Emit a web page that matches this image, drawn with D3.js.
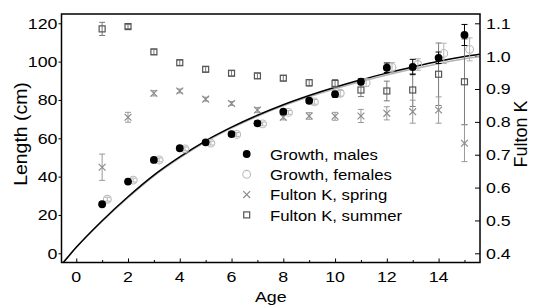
<!DOCTYPE html>
<html lang="en">
<head>
    <meta charset="UTF-8">
    <title>Growth and Fulton K</title>
    <script src="https://cdn.jsdelivr.net/npm/d3@7"></script>
    <style>
        body { margin: 0; background: #fff; }
        text { font-family: "Liberation Sans", Arial, sans-serif; fill: #000; }
    </style>
</head>
<body>
<script>

    // ages of the sampled fish
    var ages = [1, 2, 3, 4, 5, 6, 7, 8, 9, 10, 11, 12, 13, 14, 15];

    // mean length (cm) and error, males / females
    var maleLen = [25.6, 37.4, 48.7, 54.8, 57.9, 62.2, 67.8, 73.9, 79.6, 83.0, 89.5, 96.8, 97.2, 102.0, 113.9];
    var maleErr = [1, 1, 1, 1, 1, 1, 1, 1, 1.2, 1.5, 1.5, 2.5, 4, 3, 5.5];
    var femaleLen = [28.2, 38.2, 48.7, 54.5, 57.5, 62.0, 67.5, 73.5, 79.0, 83.5, 89.0, 97.0, 98.5, 104.3, 106.4];
    var femaleErr = [1, 1, 1, 1, 1, 1, 1, 1, 1.2, 1.5, 2, 2.5, 3, 5.3, 6];

    // Fulton K, spring / summer
    var springK = [0.662, 0.814, 0.887, 0.894, 0.869, 0.856, 0.836, 0.814, 0.818, 0.817, 0.818, 0.826, 0.831, 0.836, 0.735];
    var springErr = [0.04, 0.015, 0.008, 0.006, 0.006, 0.006, 0.008, 0.008, 0.01, 0.012, 0.02, 0.02, 0.035, 0.04, 0.056];
    var summerK = [1.083, 1.09, 1.013, 0.98, 0.96, 0.948, 0.94, 0.933, 0.919, 0.917, 0.897, 0.894, 0.897, 0.945, 0.922];
    var summerErr = [0.02, 0.006, 0.008, 0.008, 0.008, 0.008, 0.008, 0.008, 0.01, 0.012, 0.02, 0.03, 0.05, 0.095, 0.13];

    // growth curves
    var curveAge = [-0.57, 0, 1, 2, 3, 4, 5, 6, 7, 8, 9, 10, 11, 12, 13, 14, 15, 15.6];
    var curveMale = [-6.0, 3.1, 17.0, 29.5, 40.8, 50.3, 58.7, 65.8, 72.0, 77.5, 82.3, 86.6, 90.5, 94.0, 97.2, 100.2, 102.7, 103.9];
    var curveFemale = [-5.6, 3.0, 16.6, 29.0, 40.3, 49.8, 58.2, 65.3, 71.5, 76.9, 81.6, 85.8, 89.6, 93.0, 96.1, 98.9, 101.5, 102.7];

    // ticks
    var xTicks = [0, 2, 4, 6, 8, 10, 12, 14];
    var xMinor = [1, 3, 5, 7, 9, 11, 13, 15];
    var yTicks = [0, 20, 40, 60, 80, 100, 120];
    var kTicks = [0.4, 0.5, 0.6, 0.7, 0.8, 0.9, 1.0, 1.1];

    var legendLabels = ["Growth, males", "Growth, females", "Fulton K, spring", "Fulton K, summer"];

    var W = 540, H = 305;
    var L = 61.5, R = 480, T = 14, B = 262.5;
    var femaleShift = 0.2;

    var x = d3.scaleLinear().domain([-0.57, 15.6]).range([L, R]);
    var y = d3.scaleLinear().domain([-4.8, 124.85]).range([B, T]);
    var yK = d3.scaleLinear().domain([0.372, 1.1283]).range([B, T]);

    var svg = d3.select("body")
            .append("svg")
            .attr("width", W)
            .attr("height", H);

    svg.append("defs").append("clipPath").attr("id", "plot")
            .append("rect").attr("x", L).attr("y", T).attr("width", R - L).attr("height", B - T);

    // helper: text with a little horizontal stretch
    function label(g, px, py, str, size, sx, anchor, rot) {
        return g.append("text")
                .attr("transform", "translate(" + px + "," + py + ")" + (rot ? " rotate(" + rot + ")" : "") + " scale(" + sx + ",1)")
                .attr("text-anchor", anchor)
                .style("font-size", size + "px")
                .text(str);
    }

    // axes
    var axes = svg.append("g");

    axes.append("g").attr("transform", "translate(0," + B + ")")
            .call(d3.axisBottom(x).tickValues(xTicks).tickSizeInner(-4).tickSizeOuter(0).tickFormat(""));
    axes.append("g").attr("transform", "translate(0," + B + ")")
            .call(d3.axisBottom(x).tickValues(xMinor).tickSizeInner(-2.5).tickSizeOuter(0).tickFormat(""));
    axes.append("g").attr("transform", "translate(" + L + ",0)")
            .call(d3.axisLeft(y).tickValues(yTicks).tickSizeInner(3).tickSizeOuter(0).tickFormat(""));
    axes.append("g").attr("transform", "translate(" + R + ",0)")
            .call(d3.axisRight(yK).tickValues(kTicks).tickSizeInner(-5).tickSizeOuter(0).tickFormat(""));
    axes.selectAll(".domain").remove();
    axes.selectAll(".tick line").attr("stroke", "#000").attr("stroke-width", 1);

    xTicks.forEach(function(d) { label(svg, x(d), B + 19.2, d, 15.5, 1.15, "middle"); });
    yTicks.forEach(function(d) { label(svg, L - 4, y(d) + 5.4, d, 15.5, 1.15, "end"); });
    kTicks.forEach(function(d) { label(svg, R + 6, yK(d) + 5.4, d3.format(".1f")(d), 15.5, 1.15, "start"); });

    label(svg, (L + R) / 2, 301.5, "Age", 15.5, 1.15, "middle");
    label(svg, 26.5, 134, "Length (cm)", 18, 1.08, "middle", -90);
    label(svg, 527, 134, "Fulton K", 18, 1.0, "middle", -90);

    // growth curves
    var line = d3.line().curve(d3.curveMonotoneX);
    var plot = svg.append("g").attr("clip-path", "url(#plot)");
    plot.append("path")
            .attr("d", line(curveAge.map(function(a, i) { return [x(a), y(curveFemale[i])]; })))
            .attr("fill", "none").attr("stroke", "#b4b4b4").attr("stroke-width", 1.5);
    plot.append("path")
            .attr("d", line(curveAge.map(function(a, i) { return [x(a), y(curveMale[i])]; })))
            .attr("fill", "none").attr("stroke", "#000").attr("stroke-width", 1.5);

    // error bars
    function errorBars(vals, errs, scale, shift, color) {
        var g = svg.append("g").attr("stroke", color).attr("stroke-width", 1);
        ages.forEach(function(a, i) {
            var cx = x(a + shift), y0 = scale(vals[i] - errs[i]), y1 = scale(vals[i] + errs[i]);
            g.append("line").attr("x1", cx).attr("x2", cx).attr("y1", y0).attr("y2", y1);
            g.append("line").attr("x1", cx - 3).attr("x2", cx + 3).attr("y1", y0).attr("y2", y0);
            g.append("line").attr("x1", cx - 3).attr("x2", cx + 3).attr("y1", y1).attr("y2", y1);
        });
    }

    // markers
    function drawCircle(g, cx, cy, filled) {
        g.append("circle").attr("cx", cx).attr("cy", cy).attr("r", 3.9)
                .attr("fill", filled ? "#000" : "none")
                .attr("stroke", filled ? "#000" : "#bbb").attr("stroke-width", filled ? 0 : 1.1);
    }
    function drawCross(g, cx, cy) {
        var s = 3.4;
        g.append("path").attr("d", "M" + (cx - s) + "," + (cy - s) + "L" + (cx + s) + "," + (cy + s) +
                "M" + (cx - s) + "," + (cy + s) + "L" + (cx + s) + "," + (cy - s))
                .attr("stroke", "#8c8c8c").attr("stroke-width", 1.2).attr("fill", "none");
    }
    function drawSquare(g, cx, cy) {
        g.append("rect").attr("x", cx - 3).attr("y", cy - 3).attr("width", 6).attr("height", 6)
                .attr("fill", "none").attr("stroke", "#555").attr("stroke-width", 1.2);
    }

    errorBars(summerK, summerErr, yK, 0, "#7a7a7a");
    errorBars(springK, springErr, yK, 0, "#999");
    errorBars(femaleLen, femaleErr, y, femaleShift, "#b4b4b4");
    errorBars(maleLen, maleErr, y, 0, "#000");

    var marks = svg.append("g");
    ages.forEach(function(a, i) { drawSquare(marks, x(a), yK(summerK[i])); });
    ages.forEach(function(a, i) { drawCross(marks, x(a), yK(springK[i])); });
    ages.forEach(function(a, i) { drawCircle(marks, x(a + femaleShift), y(femaleLen[i]), false); });
    ages.forEach(function(a, i) { drawCircle(marks, x(a), y(maleLen[i]), true); });

    // legend
    var leg = svg.append("g");
    var drawers = [
        function(cx, cy) { drawCircle(leg, cx, cy, true); },
        function(cx, cy) { drawCircle(leg, cx, cy, false); },
        function(cx, cy) { drawCross(leg, cx, cy); },
        function(cx, cy) { drawSquare(leg, cx, cy); }
    ];
    legendLabels.forEach(function(t, i) {
        var ly = 154 + i * 20.3;
        drawers[i](246.7, ly);
        label(leg, 270, ly + 5.6, t, 15.5, 1.08, "start");
    });

    // frame
    svg.append("rect")
            .attr("x", L).attr("y", T).attr("width", R - L).attr("height", B - T)
            .attr("fill", "none").attr("stroke", "#000").attr("stroke-width", 1.5);

</script>
</body>
</html>
